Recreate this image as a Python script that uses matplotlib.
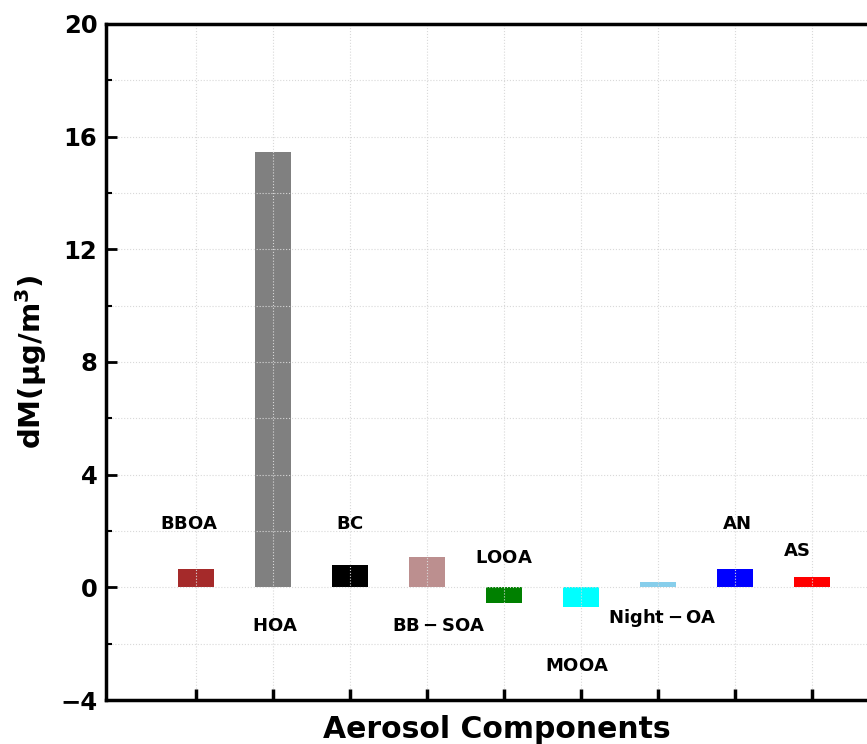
import numpy as np
import matplotlib.pyplot as plt
from matplotlib.ticker import MultipleLocator

components = ['BBOA', 'HOA', 'BC', 'BB-SOA', 'LOOA', 'MOOA', 'Night-OA', 'AN', 'AS']
dM = [0.67, 15.45, 0.78, 1.07, -0.55, -0.70, 0.20, 0.64, 0.38]
colors = ['brown', 'gray', 'black', 'rosybrown', 'green', 'cyan', 'skyblue', 'blue', 'red']
label_names = [r'$\mathbf{BBOA}$', r'$\mathbf{HOA}$', r'$\mathbf{BC}$', r'$\mathbf{BB-SOA}$',
               r'$\mathbf{LOOA}$', r'$\mathbf{MOOA}$', r'$\mathbf{Night-OA}$',
               r'$\mathbf{AN}$', r'$\mathbf{AS}$']
label_x = [-0.08, 1.03, 2.0, 3.15, 4.0, 4.95, 6.06, 7.03, 7.8]
label_y = [2.24, -1.38, 2.24, -1.38, 1.03, -2.8, -1.1, 2.24, 1.28]

fig = plt.figure(figsize=(8.67, 7.44), dpi=100)
ax = fig.add_axes([0.122, 0.059, 0.903, 0.909])

x = np.arange(len(components))
ax.bar(x, dM, width=0.47, color=colors, zorder=1)

for lx, ly, name in zip(label_x, label_y, label_names):
    ax.text(lx, ly, name, ha='center', va='center', fontsize=13)

ax.set_xlim(-1.17, 9.0)
ax.set_ylim(-4, 20)
ax.set_xticks(x)
ax.set_xticklabels([])
ax.yaxis.set_major_locator(MultipleLocator(4))
ax.yaxis.set_minor_locator(MultipleLocator(2))

ax.grid(True, which='major', axis='x', linestyle=':', color='#d9d9d9', linewidth=0.8, zorder=3)
ax.grid(True, which='both', axis='y', linestyle=':', color='#d9d9d9', linewidth=0.8, zorder=3)
ax.set_axisbelow(False)

for s in ax.spines.values():
    s.set_linewidth(2.5)
    s.set_zorder(5)

ax.tick_params(axis='x', which='major', direction='in', length=8, width=2.5, bottom=True, top=False)
ax.tick_params(axis='y', which='major', direction='in', length=8, width=2, labelsize=17.5, pad=6)
ax.tick_params(axis='y', which='minor', direction='in', length=4, width=1.5)
for lab in ax.get_yticklabels():
    lab.set_fontweight('bold')

ax.set_xlabel('Aerosol Components', fontsize=21.5, fontweight='bold', labelpad=7)
ax.set_ylabel(r'$\mathbf{dM(\mu g/m^3)}$', fontsize=21, labelpad=8)

plt.savefig('out.png', dpi=100)
